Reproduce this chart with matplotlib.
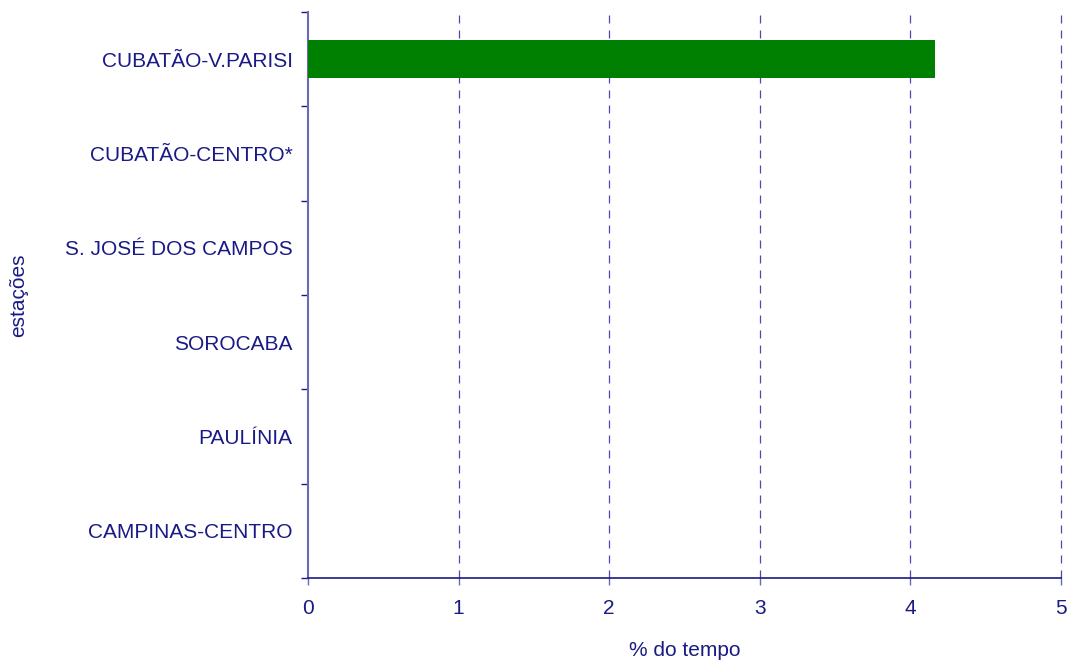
import matplotlib.pyplot as plt
import numpy as np

plt.rcParams['font.family'] = ['Liberation Sans', 'DejaVu Sans']

estacoes = ['CUBATÃO-V.PARISI', 'CUBATÃO-CENTRO*', 'S. JOSÉ DOS CAMPOS',
            'SOROCABA', 'PAULÍNIA', 'CAMPINAS-CENTRO']
valores = [4.16, 0, 0, 0, 0, 0]
x_ticks = [0, 1, 2, 3, 4, 5]

NAVY = '#1a1a86'
LIGHT = '#6a6ab8'
GRID = '#4a4ab0'
FS = 15

fig = plt.figure(figsize=(10.71, 6.64), dpi=100)
ax = fig.add_axes([0.2876, 0.1295, 0.9907 - 0.2876, 0.982 - 0.1295])

n = len(estacoes)
pos = np.arange(n)[::-1]
ax.barh(pos, valores, height=0.40, color='#008000', zorder=3)

ax.set_xlim(0, 5)
ax.set_ylim(-0.5, n - 0.5)
ax.set_xticks(x_ticks)
ax.set_xticklabels([str(t) for t in x_ticks])
ax.set_yticks(pos)
ax.set_yticklabels(estacoes)
ax.set_yticks(np.arange(-0.5, n, 1.0), minor=True)

# dashed vertical gridlines, the one at 5 sits on the edge
for x in x_ticks[1:]:
    ax.axvline(x, color=GRID, lw=0.9, ls=(0, (6.4, 5.6)), zorder=1, clip_on=False)

ax.tick_params(axis='y', which='major', length=0, pad=11, labelsize=FS, labelcolor=NAVY)
ax.tick_params(axis='y', which='minor', length=5, width=1, color=NAVY)
ax.tick_params(axis='x', which='major', length=5, width=1, color=LIGHT,
               pad=10, labelsize=FS, labelcolor=NAVY)

for s in ['top', 'right']:
    ax.spines[s].set_visible(False)
ax.spines['left'].set_color(LIGHT)
ax.spines['left'].set_linewidth(1.5)
ax.spines['bottom'].set_color(NAVY)
ax.spines['bottom'].set_linewidth(1.2)
ax.spines['bottom'].set_zorder(4)

ax.set_xlabel('% do tempo', fontsize=FS, color=NAVY, labelpad=17)
ax.set_ylabel('estações', fontsize=FS, color=NAVY)
ax.yaxis.set_label_coords(-0.372, 0.5)

fig.savefig('out.png', dpi=100)
